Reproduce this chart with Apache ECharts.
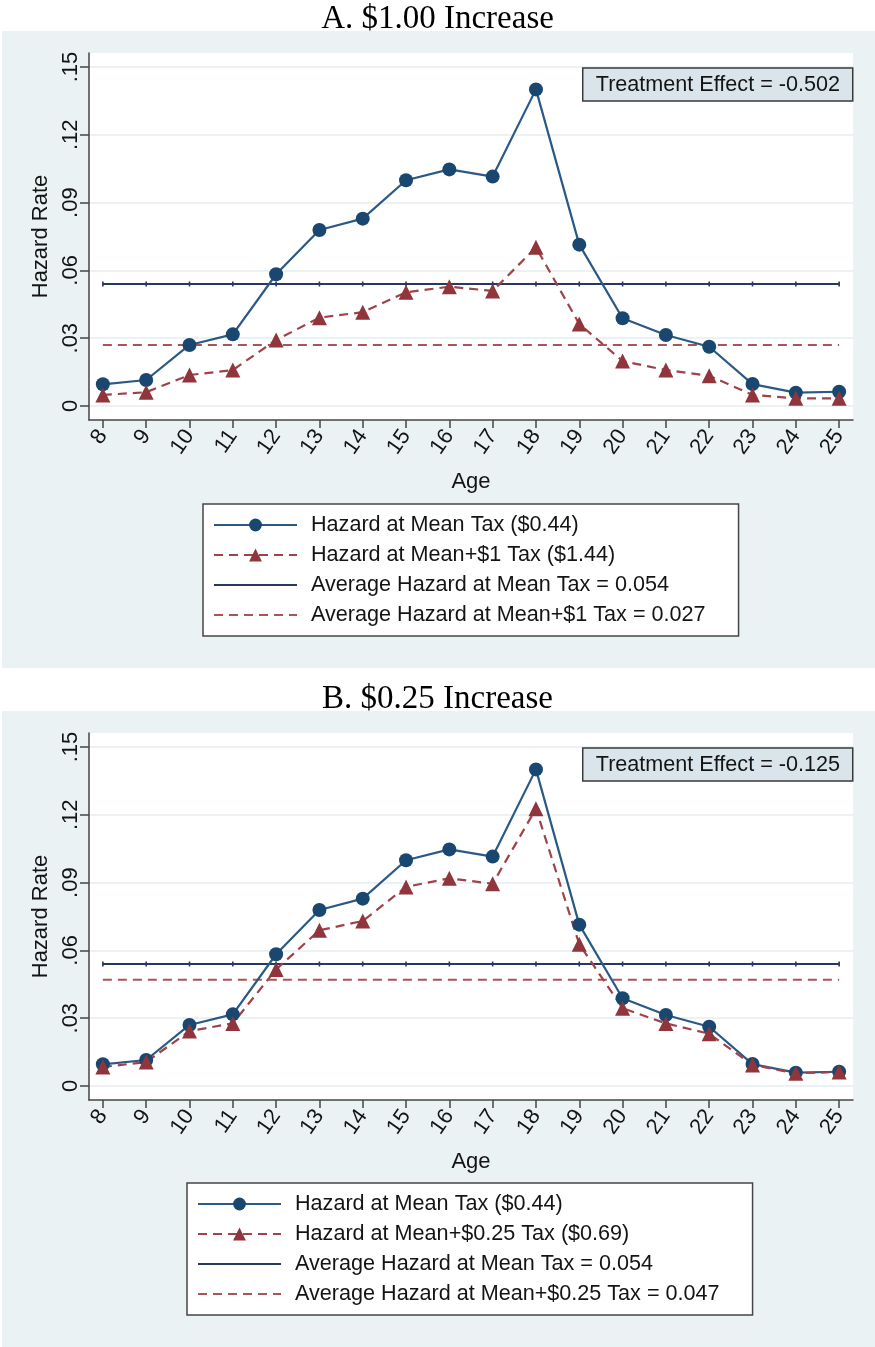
<!DOCTYPE html>
<html>
<head>
<meta charset="utf-8">
<script src="https://cdn.jsdelivr.net/npm/echarts@6/dist/echarts.min.js"></script>
<style>
  html, body { margin: 0; padding: 0; background: #fff; }
  #chart { width: 875px; height: 1347px; }
</style>
</head>
<body>
<div id="chart"></div>
<script>
// Age of the respondent
const ages = [8, 9, 10, 11, 12, 13, 14, 15, 16, 17, 18, 19, 20, 21, 22, 23, 24, 25];

// Hazard at the mean tax ($0.44) - same in both panels
const hazardMeanTax = [0.0096, 0.0115, 0.0270, 0.0317, 0.0583, 0.0779, 0.0829, 0.0999, 0.1047,
                       0.1015, 0.1401, 0.0714, 0.0388, 0.0314, 0.0262, 0.0097, 0.0059, 0.0063];

// Hazard at mean + $1 tax ($1.44)
const hazardPlusDollar = [0.0049, 0.0061, 0.0137, 0.0159, 0.0292, 0.0391, 0.0415, 0.0503, 0.0528,
                          0.0509, 0.0702, 0.0363, 0.0199, 0.0159, 0.0134, 0.0049, 0.0034, 0.0034];

// Hazard at mean + $0.25 tax ($0.69)
const hazardPlusQuarter = [0.0084, 0.0106, 0.0243, 0.0277, 0.0516, 0.0689, 0.0730, 0.0881, 0.0919,
                           0.0895, 0.1227, 0.0627, 0.0344, 0.0277, 0.0231, 0.0093, 0.0056, 0.0062];

// Average hazards
const avgMeanTax = 0.054;
const avgPlusDollar = 0.027;
const avgPlusQuarter = 0.047;

// Axis ticks
const yTicks = [0, 0.03, 0.06, 0.09, 0.12, 0.15];

const panelTitles = ['A. $1.00 Increase', 'B. $0.25 Increase'];
const effectLabels = ['Treatment Effect = -0.502', 'Treatment Effect = -0.125'];
const legendNames = [
  ['Hazard at Mean Tax ($0.44)', 'Hazard at Mean+$1 Tax ($1.44)',
   'Average Hazard at Mean Tax = 0.054', 'Average Hazard at Mean+$1 Tax = 0.027'],
  ['Hazard at Mean Tax ($0.44)', 'Hazard at Mean+$0.25 Tax ($0.69)',
   'Average Hazard at Mean Tax = 0.054', 'Average Hazard at Mean+$0.25 Tax = 0.047']
];

const panels = [
  { treated: hazardPlusDollar, avgTreated: avgPlusDollar },
  { treated: hazardPlusQuarter, avgTreated: avgPlusQuarter }
];

// ---- styling ----
const SANS = 'Liberation Sans, Arial, sans-serif';
const SERIF = 'Liberation Serif, Times New Roman, serif';
const NAVY = '#1a476f';
const NAVY_LINE = '#2a5985';
const AVG_NAVY = '#27395f';
const MAROON = '#90353b';
const MAROON_LINE = '#9d4349';
const AVG_MAROON = '#a9545a';
const AXIS = '#454545';
const TEXT = '#141414';
const PANEL_BG = '#eaf2f3';
const DASH = [9, 6];
const PANEL_SHIFT = 680;
const FS = 22;
const LEGEND_FS = 21.6;

const pairs = vals => ages.map((a, k) => [a, vals[k]]);
const flat = v => ages.map(a => [a, v]);
const fmtY = v => v === 0 ? '0' : Number(v).toFixed(2).replace(/^0/, '');

const grids = [], xAxes = [], yAxes = [], series = [], legends = [], titles = [], graphics = [];

panels.forEach((p, i) => {
  const dy = i * PANEL_SHIFT;
  graphics.push({
    type: 'rect', z: -10, silent: true,
    shape: { x: 2, y: 31 + dy, width: 873, height: 637 },
    style: { fill: PANEL_BG }
  });
  grids.push({
    left: 89, top: 53 + dy, width: 764, height: 367,
    show: true, backgroundColor: '#fff', borderWidth: 0
  });
  xAxes.push({
    gridIndex: i, type: 'value', min: 7.68, max: 25.32,
    axisLine: { show: true, onZero: false, lineStyle: { color: AXIS, width: 1.5 } },
    axisTick: { show: true, customValues: ages, length: 8, lineStyle: { color: AXIS, width: 1.5 } },
    axisLabel: { customValues: ages, rotate: 55, margin: 12, fontSize: FS, fontFamily: SANS, color: TEXT },
    splitLine: { show: false },
    name: 'Age', nameLocation: 'middle', nameGap: 51,
    nameTextStyle: { fontSize: FS, fontFamily: SANS, color: TEXT }
  });
  yAxes.push({
    gridIndex: i, type: 'value', min: -0.0062, max: 0.1562,
    axisLine: { show: true, onZero: false, lineStyle: { color: AXIS, width: 1.5 } },
    axisTick: { show: true, customValues: yTicks, length: 9, lineStyle: { color: AXIS, width: 1.5 } },
    axisLabel: { customValues: yTicks, rotate: 90, margin: 7, fontSize: FS, fontFamily: SANS, color: TEXT,
                 formatter: fmtY },
    splitLine: { show: true, lineStyle: { color: '#e6eef1', width: 1.5 } },
    name: 'Hazard Rate', nameLocation: 'middle', nameGap: 37,
    nameTextStyle: { fontSize: FS, fontFamily: SANS, color: TEXT }
  });

  const names = legendNames[i];
  series.push(
    {
      type: 'line', name: names[0], xAxisIndex: i, yAxisIndex: i,
      data: pairs(hazardMeanTax), symbol: 'circle', symbolSize: 14,
      lineStyle: { color: NAVY_LINE, width: 2.2 }, itemStyle: { color: NAVY },
      animation: false, z: 3
    },
    {
      type: 'line', name: names[1], xAxisIndex: i, yAxisIndex: i,
      data: pairs(p.treated), symbol: 'triangle', symbolSize: 15,
      lineStyle: { color: MAROON_LINE, width: 2.2, type: DASH }, itemStyle: { color: MAROON },
      animation: false, z: 3
    },
    {
      type: 'line', name: names[2], xAxisIndex: i, yAxisIndex: i,
      data: flat(avgMeanTax), symbol: 'rect', symbolSize: [1.6, 5],
      lineStyle: { color: AVG_NAVY, width: 2 }, itemStyle: { color: AVG_NAVY },
      animation: false, z: 2
    },
    {
      type: 'line', name: names[3], xAxisIndex: i, yAxisIndex: i,
      data: flat(p.avgTreated), symbol: 'none',
      lineStyle: { color: AVG_MAROON, width: 2, type: DASH }, itemStyle: { color: AVG_MAROON },
      animation: false, z: 2
    }
  );

  legends.push({
    orient: 'vertical',
    left: i === 0 ? 203 : 187,
    top: i === 0 ? 504 : 1183,
    data: [
      { name: names[0] },
      { name: names[1] },
      { name: names[2], itemStyle: { opacity: 0 } },
      { name: names[3], itemStyle: { opacity: 0 } }
    ],
    itemWidth: 83, itemHeight: 16, itemGap: 8,
    padding: [10, 33, 10, 10],
    backgroundColor: '#fff', borderColor: AXIS, borderWidth: 1.5, borderRadius: 0,
    selectedMode: false,
    textStyle: { fontSize: LEGEND_FS, fontFamily: SANS, color: TEXT, padding: [0, 0, 0, 9] }
  });

  titles.push({
    text: panelTitles[i], left: 'center', top: 3 + dy, padding: 0,
    textStyle: { fontFamily: SERIF, fontSize: 33, fontWeight: 'normal', color: '#000' }
  });
  titles.push({
    text: effectLabels[i], right: 22, top: 68 + dy,
    backgroundColor: '#d9e5eb', borderColor: '#3a3a3a', borderWidth: 1.5,
    padding: [6, 13, 5, 13],
    textStyle: { fontFamily: SANS, fontSize: LEGEND_FS, fontWeight: 'normal', color: TEXT }
  });
});

const chart = echarts.init(document.getElementById('chart'), null, { renderer: 'canvas' });
chart.setOption({
  backgroundColor: '#fff',
  animation: false,
  title: titles,
  graphic: graphics,
  grid: grids,
  xAxis: xAxes,
  yAxis: yAxes,
  legend: legends,
  series: series
});
</script>
</body>
</html>
